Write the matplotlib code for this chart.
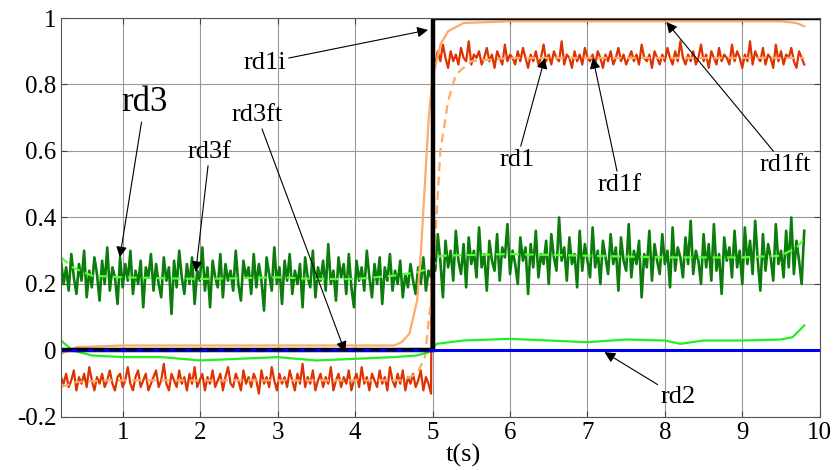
import numpy as np
import matplotlib
matplotlib.use("Agg")
import matplotlib.pyplot as plt

plt.rcParams['font.family'] = ['Liberation Serif', 'DejaVu Serif']

# sample times of the noisy signals
t_a = np.linspace(0.2, 4.98, 145)
t_b = np.linspace(5.0, 9.8, 145)

rd3_a = [0.27, 0.20, 0.25, 0.18, 0.29, 0.22, 0.17, 0.26, 0.21, 0.30, 0.16, 0.24, 0.19, 0.28, 0.23, 0.15, 0.27, 0.20, 0.31, 0.18,
         0.25, 0.22, 0.14, 0.28, 0.19, 0.26, 0.21, 0.30, 0.17, 0.24, 0.20, 0.27, 0.13, 0.25, 0.22, 0.29, 0.18, 0.26, 0.20, 0.16,
         0.28, 0.21, 0.25, 0.11, 0.27, 0.19, 0.30, 0.22, 0.17, 0.26, 0.20, 0.28, 0.14, 0.24, 0.21, 0.31, 0.18, 0.25, 0.13, 0.27,
         0.22, 0.19, 0.29, 0.16, 0.26, 0.21, 0.24, 0.18, 0.30, 0.20, 0.15, 0.27, 0.22, 0.25, 0.17, 0.29, 0.19, 0.26, 0.21, 0.12,
         0.28, 0.23, 0.18, 0.31, 0.20, 0.25, 0.14, 0.27, 0.21, 0.29, 0.17, 0.24, 0.20, 0.26, 0.13, 0.28, 0.22, 0.19, 0.30, 0.16,
         0.25, 0.21, 0.27, 0.18, 0.32, 0.20, 0.24, 0.15, 0.28, 0.22, 0.26, 0.17, 0.29, 0.19, 0.13, 0.27, 0.21, 0.25, 0.18, 0.30,
         0.22, 0.16, 0.26, 0.20, 0.28, 0.14, 0.25, 0.21, 0.29, 0.18, 0.24, 0.20, 0.27, 0.16, 0.23, 0.19, 0.26, 0.21, 0.17, 0.25,
         0.20, 0.28, 0.18, 0.24, 0.22]
rd3_b = [0.31, 0.24, 0.35, 0.27, 0.16, 0.33, 0.25, 0.30, 0.21, 0.36, 0.27, 0.23, 0.32, 0.19, 0.34, 0.26, 0.30, 0.22, 0.37, 0.25,
         0.29, 0.18, 0.33, 0.27, 0.24, 0.35, 0.21, 0.31, 0.28, 0.38, 0.23, 0.30, 0.26, 0.20, 0.34, 0.27, 0.31, 0.17, 0.32, 0.25,
         0.36, 0.22, 0.29, 0.26, 0.33, 0.20, 0.35, 0.28, 0.24, 0.40, 0.27, 0.31, 0.21, 0.34, 0.26, 0.29, 0.19, 0.36, 0.24, 0.32,
         0.27, 0.22, 0.37, 0.25, 0.30, 0.20, 0.33, 0.28, 0.23, 0.35, 0.26, 0.31, 0.18, 0.34, 0.27, 0.24, 0.38, 0.22, 0.30, 0.26,
         0.33, 0.16, 0.29, 0.25, 0.36, 0.21, 0.32, 0.27, 0.23, 0.35, 0.26, 0.30, 0.19, 0.37, 0.24, 0.31, 0.28, 0.22, 0.34, 0.26,
         0.39, 0.23, 0.30, 0.27, 0.20, 0.35, 0.25, 0.32, 0.21, 0.38, 0.24, 0.29, 0.17, 0.34, 0.27, 0.31, 0.22, 0.36, 0.25, 0.30,
         0.20, 0.37, 0.26, 0.33, 0.23, 0.39, 0.27, 0.18, 0.35, 0.24, 0.32, 0.28, 0.21, 0.38, 0.26, 0.30, 0.22, 0.36, 0.25, 0.40,
         0.23, 0.33, 0.27, 0.20, 0.36]
rd1_a = [-0.08, -0.10, -0.07, -0.11, -0.09, -0.06, -0.12, -0.08, -0.10, -0.07, -0.11, -0.05, -0.09, -0.12, -0.08, -0.10, -0.07, -0.11, -0.09, -0.06,
         -0.10, -0.12, -0.08, -0.07, -0.11, -0.09, -0.05, -0.10, -0.12, -0.08, -0.06, -0.11, -0.09, -0.07, -0.12, -0.10, -0.08, -0.06, -0.11, -0.09,
         -0.04, -0.10, -0.12, -0.07, -0.09, -0.11, -0.06, -0.10, -0.08, -0.12, -0.07, -0.10, -0.05, -0.11, -0.09, -0.07, -0.12, -0.08, -0.10, -0.06,
         -0.11, -0.09, -0.07, -0.12, -0.08, -0.05, -0.10, -0.11, -0.07, -0.09, -0.12, -0.06, -0.10, -0.08, -0.11, -0.07, -0.09, -0.13, -0.06, -0.10,
         -0.08, -0.11, -0.05, -0.09, -0.12, -0.07, -0.10, -0.08, -0.11, -0.06, -0.09, -0.12, -0.07, -0.10, -0.04, -0.11, -0.08, -0.10, -0.06, -0.12,
         -0.09, -0.07, -0.11, -0.08, -0.10, -0.05, -0.12, -0.09, -0.07, -0.11, -0.08, -0.10, -0.06, -0.12, -0.09, -0.07, -0.11, -0.05, -0.10, -0.08,
         -0.12, -0.07, -0.09, -0.11, -0.06, -0.10, -0.08, -0.12, -0.05, -0.09, -0.11, -0.07, -0.10, -0.06, -0.12, -0.08, -0.10, -0.07, -0.11, -0.09,
         -0.06, -0.12, -0.08, -0.10, -0.13]
rd1_b = [0.89, 0.86, 0.90, 0.87, 0.92, 0.88, 0.85, 0.90, 0.87, 0.89, 0.86, 0.91, 0.88, 0.87, 0.93, 0.86, 0.89, 0.88, 0.90, 0.86,
         0.88, 0.91, 0.87, 0.89, 0.85, 0.90, 0.88, 0.86, 0.92, 0.87, 0.89, 0.88, 0.86, 0.90, 0.87, 0.91, 0.88, 0.85, 0.89, 0.87,
         0.90, 0.86, 0.88, 0.92, 0.87, 0.89, 0.86, 0.90, 0.88, 0.87, 0.93, 0.86, 0.89, 0.88, 0.85, 0.90, 0.87, 0.89, 0.86, 0.91,
         0.88, 0.87, 0.89, 0.86, 0.90, 0.88, 0.85, 0.89, 0.87, 0.90, 0.86, 0.88, 0.91, 0.87, 0.89, 0.86, 0.88, 0.90, 0.87, 0.89,
         0.86, 0.92, 0.88, 0.87, 0.89, 0.85, 0.90, 0.88, 0.86, 0.89, 0.87, 0.91, 0.88, 0.86, 0.90, 0.87, 0.93, 0.88, 0.86, 0.89,
         0.87, 0.90, 0.86, 0.88, 0.92, 0.87, 0.89, 0.85, 0.90, 0.88, 0.86, 0.91, 0.87, 0.89, 0.88, 0.86, 0.92, 0.87, 0.90, 0.88,
         0.85, 0.89, 0.87, 0.93, 0.86, 0.90, 0.88, 0.87, 0.91, 0.86, 0.89, 0.88, 0.85, 0.92, 0.87, 0.90, 0.86, 0.89, 0.88, 0.91,
         0.87, 0.85, 0.90, 0.88, 0.86]

rd1f_t = [0.2, 0.4, 0.8, 4.6, 4.8, 4.9, 5.0, 5.05, 5.1, 5.2, 5.3, 5.5, 6.0, 9.8]
rd1f_y = [-0.11, -0.095, -0.09, -0.09, -0.07, -0.02, 0.2, 0.4, 0.6, 0.75, 0.83, 0.87, 0.88, 0.88]
rd1ft_t = [0.2, 0.4, 1.0, 4.5, 4.6, 4.7, 4.8, 4.85, 4.9, 4.95, 5.0, 5.1, 5.2, 5.4, 6.0, 9.5, 9.7, 9.8]
rd1ft_y = [-0.01, 0.01, 0.015, 0.015, 0.025, 0.05, 0.15, 0.3, 0.5, 0.7, 0.82, 0.92, 0.96, 0.985, 0.99, 0.99, 0.985, 0.975]
rd3f_t = [0.2, 0.35, 0.6, 1.0, 2.0, 3.0, 3.5, 4.0, 4.5, 4.8, 5.0, 5.1, 6.0, 7.0, 8.0, 9.0, 9.5, 9.7, 9.8]
rd3f_y = [0.28, 0.25, 0.225, 0.22, 0.215, 0.22, 0.215, 0.215, 0.225, 0.235, 0.25, 0.285, 0.29, 0.285, 0.28, 0.28, 0.285, 0.31, 0.335]
rd3ft_t = [0.2, 0.35, 0.6, 1.0, 1.5, 2.0, 2.5, 3.0, 3.5, 4.0, 4.5, 4.8, 4.95, 5.05, 5.4, 6.0, 7.0, 7.5, 8.0, 8.2, 8.5, 9.0, 9.5, 9.65, 9.8]
rd3ft_y = [0.03, 0.0, -0.015, -0.02, -0.02, -0.03, -0.025, -0.02, -0.03, -0.025, -0.02, -0.015, -0.005, 0.02, 0.03, 0.035, 0.025, 0.033, 0.03, 0.02, 0.03, 0.03, 0.033, 0.04, 0.075]
rd2_t = [0.2, 10.0]
rd2_y = [0.0, 0.0]
rd1i_t = [0.2, 5.0, 5.0, 10.0]
rd1i_y = [0.0, 0.0, 1.0, 1.0]

fig = plt.figure(figsize=(8.39, 4.70), dpi=100)
ax = fig.add_axes([0.0727, 0.1128, 0.9043, 0.8489])

t_rd = np.concatenate([t_a, t_b])
ax.plot(t_rd, rd3_a + rd3_b, color='#0a7d0a', lw=1.9)
ax.plot(rd3f_t, rd3f_y, color='#55ff33', lw=1.6, ls=(0, (4, 2.5)))
ax.plot(t_rd, rd1_a + rd1_b, color='#dd3300', lw=1.6)
ax.plot(rd1f_t, rd1f_y, color='#ffaa66', lw=1.6, ls=(0, (4, 2.5)))
ax.plot(rd1ft_t, rd1ft_y, color='#ffaa66', lw=1.6)
ax.plot(rd3ft_t, rd3ft_y, color='#22ee22', lw=1.6)
ax.plot(rd1i_t, rd1i_y, color='black', lw=3.2, solid_joinstyle='miter')
# rd2 sits on the zero line, the rd1i reference shows through it before the step
ax.plot(rd2_t, rd2_y, color='#0000ee', lw=2.2)
ax.plot(rd1i_t[:2], rd1i_y[:2], color='black', lw=1.3, ls=(0, (6, 3)))

ax.set_xlim(0.2, 10)
ax.set_ylim(-0.2, 1)
ax.set_xticks(range(1, 11))
ax.set_yticks([-0.2, 0, 0.2, 0.4, 0.6, 0.8, 1])
ax.set_yticklabels(['-0.2', '0', '0.2', '0.4', '0.6', '0.8', '1'])
ax.tick_params(direction='in', labelsize=18, top=True, right=True, length=4, colors='#444444', labelcolor='black')
ax.grid(True, color='#999999', lw=0.8)
for s in ax.spines.values():
    s.set_color('#555555')

arrow = dict(arrowstyle='-|>', color='black', lw=0.8, mutation_scale=16, shrinkA=0, shrinkB=0)
labels = [
    ('rd1i', (2.83, 0.865), (4.94, 0.964), 19),
    ('rd3', (1.28, 0.745), (0.96, 0.28), 25),
    ('rd3f', (2.12, 0.597), (1.94, 0.236), 19),
    ('rd3ft', (2.73, 0.708), (3.87, -0.005), 19),
    ('rd1', (6.09, 0.573), (6.45, 0.88), 19),
    ('rd1f', (7.42, 0.498), (7.07, 0.88), 19),
    ('rd1ft', (9.55, 0.558), (8.02, 0.988), 19),
    ('rd2', (8.17, -0.14), (7.22, -0.005), 19),
]
for name, txt, tip, fs in labels:
    ax.annotate(name, xy=tip, xytext=txt, fontsize=fs, ha='center', va='center',
                arrowprops=arrow)

ax.text(5.4, -0.315, 't(s)', fontsize=19, ha='center', va='center', clip_on=False)

fig.savefig('out.png', dpi=100)
